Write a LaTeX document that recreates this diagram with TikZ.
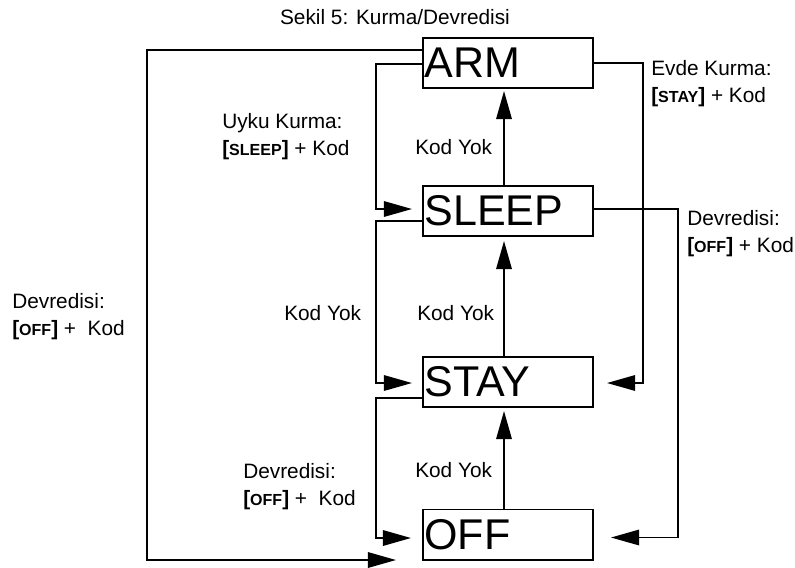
\documentclass[tikz,border=0pt]{standalone}
\usepackage{fontspec}
\setmainfont{Liberation Sans}
\usetikzlibrary{arrows.meta}

\newcommand{\keyname}[1]{\textbf{[}{\bfseries\fontsize{11.4}{12}\selectfont #1}\textbf{]}}

\begin{document}
\begin{tikzpicture}[
x=0.025cm, y=-0.025cm,
every node/.style={
    inner sep=0pt,
    font=\fontsize{14.8}{18.6}\selectfont
},
state/.style={
    draw,
    line width=1.4pt,
    minimum height=1.25cm,
    text width=4.18cm,
    inner xsep=1pt,
    align=left,
    font=\fontsize{30.6}{32}\selectfont
},
arr/.style={line width=1.3pt, -{Triangle[length=20pt,width=11pt]}},
txt/.style={anchor=base west, align=left}
]
\useasboundingbox (0,0) rectangle (795,567);

%---------------- States ----------------
\node[state] (arm)   at (508,63)    {ARM};
\node[state] (sleep) at (508,211)   {SLEEP};
\node[state] (stay)  at (508,382)   {STAY};
\node[state] (off)   at (508,534.5) {OFF};

\node[anchor=base] (title) at (395,24) {Sekil 5: Kurma/Devredisi};

%---------------- Left side ----------------
\draw[arr] ([shift={(0,-13)}]arm.west) -- ++(-275,0) |- ([shift={(-26,25.5)}]off.west);
\draw[arr] ([shift={(0,1)}]arm.west) -- ++(-46,0) |- ([shift={(-10,-2)}]sleep.west);
\draw[arr] ([shift={(0,10)}]sleep.west) -- ++(-46,0) |- ([shift={(-10,1)}]stay.west);
\draw[arr] ([shift={(0,16)}]stay.west) -- ++(-46,0) |- ([shift={(-11,3.5)}]off.west);

%---------------- Right side ----------------
\draw[arr] (arm.east) -- ++(49,0) |- ([shift={(13,1)}]stay.east);
\draw[arr] ([shift={(0,-2)}]sleep.east) -- ++(84,0) |- ([shift={(17,3)}]off.east);

%---------------- Kod Yok ----------------
\draw[arr] ([shift={(-4,0)}]sleep.north) -- ([shift={(-4,2)}]arm.south);
\draw[arr] ([shift={(-4,0)}]stay.north) -- ([shift={(-4,4)}]sleep.south);
\draw[arr] ([shift={(-4,0)}]off.north) -- ([shift={(-4,3)}]stay.south);

%---------------- Labels ----------------
\node[txt] (uyku) at (222,155) {Uyku Kurma:\\\keyname{SLEEP} + Kod};
\node[txt] (evde) at (651,102) {Evde Kurma:\\\keyname{STAY} + Kod};
\node[txt] (devR) at (687,252) {Devredisi:\\\keyname{OFF} + Kod};
\node[txt] (devL) at (12,335) {Devredisi:\\\keyname{OFF} + \ Kod};
\node[txt] (devB) at (243,505) {Devredisi:\\\keyname{OFF} + \ Kod};

\node[txt] (yok1) at (415,154) {Kod Yok};
\node[txt] (yok2) at (284,320) {Kod Yok};
\node[txt] (yok3) at (417,320) {Kod Yok};
\node[txt] (yok4) at (415,477) {Kod Yok};

\end{tikzpicture}
\end{document}
